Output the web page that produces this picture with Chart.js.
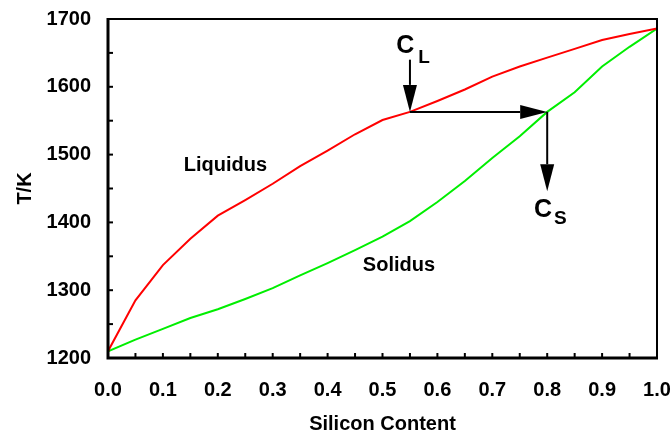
<!DOCTYPE html>
<html>
<head>
<meta charset="utf-8">
<script src="https://cdn.jsdelivr.net/npm/chart.js@4/dist/chart.umd.min.js"></script>
<style>
  html, body { margin: 0; padding: 0; background: #ffffff; }
  #wrap { width: 672px; height: 436px; }
</style>
</head>
<body>
<div id="wrap"><canvas id="phase"></canvas></div>
<script>
// Si–Ge binary phase diagram: liquidus and solidus temperatures vs. silicon fraction
const siliconContent = [0, 0.05, 0.1, 0.15, 0.2, 0.25, 0.3, 0.35, 0.4, 0.45, 0.5,
                        0.55, 0.6, 0.65, 0.7, 0.75, 0.8, 0.85, 0.9, 0.95, 1.0];
const liquidusT = [1210, 1285, 1337, 1376, 1410, 1433, 1457, 1483, 1506, 1530, 1551,
                   1563, 1579, 1596, 1615, 1630, 1643, 1656, 1669, 1678, 1686];
const solidusT  = [1210, 1227, 1243, 1259, 1272, 1287, 1303, 1322, 1340, 1359, 1379,
                   1402, 1430, 1461, 1495, 1527, 1563, 1592, 1630, 1659, 1686];

const xTickValues = [0, 0.1, 0.2, 0.3, 0.4, 0.5, 0.6, 0.7, 0.8, 0.9, 1.0];
const yTickValues = [1200, 1300, 1400, 1500, 1600, 1700];

// tie-line construction: C_L on the liquidus, C_S on the solidus
const cLiquid = 0.55;
const cSolid = 0.80;
const tieT = 1563;
const arrowTopT = 1640;
const arrowBottomT = 1446;

const FONT = "'Liberation Sans', Arial, Helvetica, sans-serif";

function toPoints(xs, ys) { return xs.map((x, i) => ({ x: x, y: ys[i] })); }

function arrow(ctx, x1, y1, x2, y2) {
  const len = 27, half = 7;
  const ang = Math.atan2(y2 - y1, x2 - x1);
  const bx = x2 - len * Math.cos(ang), by = y2 - len * Math.sin(ang);
  ctx.beginPath();
  ctx.moveTo(x1, y1);
  ctx.lineTo(bx, by);
  ctx.stroke();
  ctx.beginPath();
  ctx.moveTo(x2, y2);
  ctx.lineTo(bx + half * Math.sin(ang), by - half * Math.cos(ang));
  ctx.lineTo(bx - half * Math.sin(ang), by + half * Math.cos(ang));
  ctx.closePath();
  ctx.fill();
}

const framePlugin = {
  id: 'frameAndNotes',
  afterDatasetsDraw(chart) {
    const { ctx, chartArea: a, scales: { x, y } } = chart;
    ctx.save();
    ctx.strokeStyle = '#000';
    ctx.fillStyle = '#000';
    ctx.lineCap = 'butt';

    // top and right border
    ctx.lineWidth = 2;
    ctx.beginPath();
    ctx.moveTo(a.left, a.top); ctx.lineTo(a.right, a.top); ctx.lineTo(a.right, a.bottom);
    ctx.stroke();
    // heavy left and bottom axes
    ctx.lineWidth = 3;
    ctx.beginPath();
    ctx.moveTo(a.left, a.top - 1); ctx.lineTo(a.left, a.bottom); ctx.lineTo(a.right + 1, a.bottom);
    ctx.stroke();

    // inward tick marks at every half step
    ctx.lineWidth = 2;
    for (let i = 1; i < 20; i++) {
      const px = x.getPixelForValue(i * 0.05);
      ctx.beginPath(); ctx.moveTo(px, a.bottom); ctx.lineTo(px, a.bottom - 5); ctx.stroke();
    }
    for (let t = 1250; t < 1700; t += 50) {
      const py = y.getPixelForValue(t);
      ctx.beginPath(); ctx.moveTo(a.left, py); ctx.lineTo(a.left + 5, py); ctx.stroke();
    }

    // tie-line arrows
    ctx.lineWidth = 2;
    arrow(ctx, x.getPixelForValue(cLiquid), y.getPixelForValue(arrowTopT),
               x.getPixelForValue(cLiquid), y.getPixelForValue(tieT));
    arrow(ctx, x.getPixelForValue(cLiquid), y.getPixelForValue(tieT),
               x.getPixelForValue(cSolid), y.getPixelForValue(tieT));
    arrow(ctx, x.getPixelForValue(cSolid), y.getPixelForValue(tieT),
               x.getPixelForValue(cSolid), y.getPixelForValue(arrowBottomT));

    // curve names
    ctx.textAlign = 'center';
    ctx.textBaseline = 'middle';
    ctx.font = 'bold 20px ' + FONT;
    ctx.fillText('Liquidus', x.getPixelForValue(0.214), y.getPixelForValue(1484));
    ctx.fillText('Solidus', x.getPixelForValue(0.530), y.getPixelForValue(1336));

    // C_L and C_S labels
    ctx.textAlign = 'left';
    ctx.textBaseline = 'alphabetic';
    const cl = [x.getPixelForValue(0.525), y.getPixelForValue(1650)];
    ctx.font = 'bold 25px ' + FONT;
    ctx.fillText('C', cl[0], cl[1]);
    ctx.font = 'bold 19px ' + FONT;
    ctx.fillText('L', cl[0] + 22, cl[1] + 10);

    const cs = [x.getPixelForValue(0.776), y.getPixelForValue(1408)];
    ctx.font = 'bold 25px ' + FONT;
    ctx.fillText('C', cs[0], cs[1]);
    ctx.font = 'bold 19px ' + FONT;
    ctx.fillText('S', cs[0] + 20, cs[1] + 7);
    ctx.restore();
  }
};

new Chart(document.getElementById('phase'), {
  type: 'scatter',
  data: {
    datasets: [
      { label: 'Liquidus', data: toPoints(siliconContent, liquidusT), showLine: true,
        borderColor: '#ff0000', borderWidth: 2, pointRadius: 0, tension: 0 },
      { label: 'Solidus', data: toPoints(siliconContent, solidusT), showLine: true,
        borderColor: '#00ee00', borderWidth: 2, pointRadius: 0, tension: 0 }
    ]
  },
  options: {
    responsive: true,
    maintainAspectRatio: false,
    animation: false,
    events: [],
    layout: { padding: { top: 19, right: 15, left: 0, bottom: 0 } },
    plugins: { legend: { display: false }, tooltip: { enabled: false } },
    scales: {
      x: {
        type: 'linear', min: 0, max: 1,
        afterFit(scale) {
          scale.height = 78;
          scale.paddingLeft = 0; scale.paddingRight = 0;
        },
        afterBuildTicks(scale) { scale.ticks = xTickValues.map(v => ({ value: v })); },
        grid: { display: false, drawTicks: false },
        border: { display: false },
        ticks: { padding: 20, color: '#000', maxRotation: 0, autoSkip: false,
                 font: { family: FONT, size: 20, weight: 'bold' },
                 callback: v => Number(v).toFixed(1) },
        title: { display: true, text: 'Silicon Content', color: '#000',
                 padding: { top: 0, bottom: 0 },
                 font: { family: FONT, size: 20, weight: 'bold' } }
      },
      y: {
        type: 'linear', min: 1200, max: 1700,
        afterFit(scale) {
          scale.width = 108;
          scale.paddingTop = 0; scale.paddingBottom = 0;
        },
        afterBuildTicks(scale) { scale.ticks = yTickValues.map(v => ({ value: v })); },
        grid: { display: false, drawTicks: false },
        border: { display: false },
        ticks: { padding: 17, color: '#000', autoSkip: false,
                 font: { family: FONT, size: 20, weight: 'bold' },
                 callback: v => String(v) },
        title: { display: true, text: 'T/K', color: '#000',
                 padding: { top: 13, bottom: 0 },
                 font: { family: FONT, size: 20, weight: 'bold' } }
      }
    }
  },
  plugins: [framePlugin]
});
</script>
</body>
</html>
